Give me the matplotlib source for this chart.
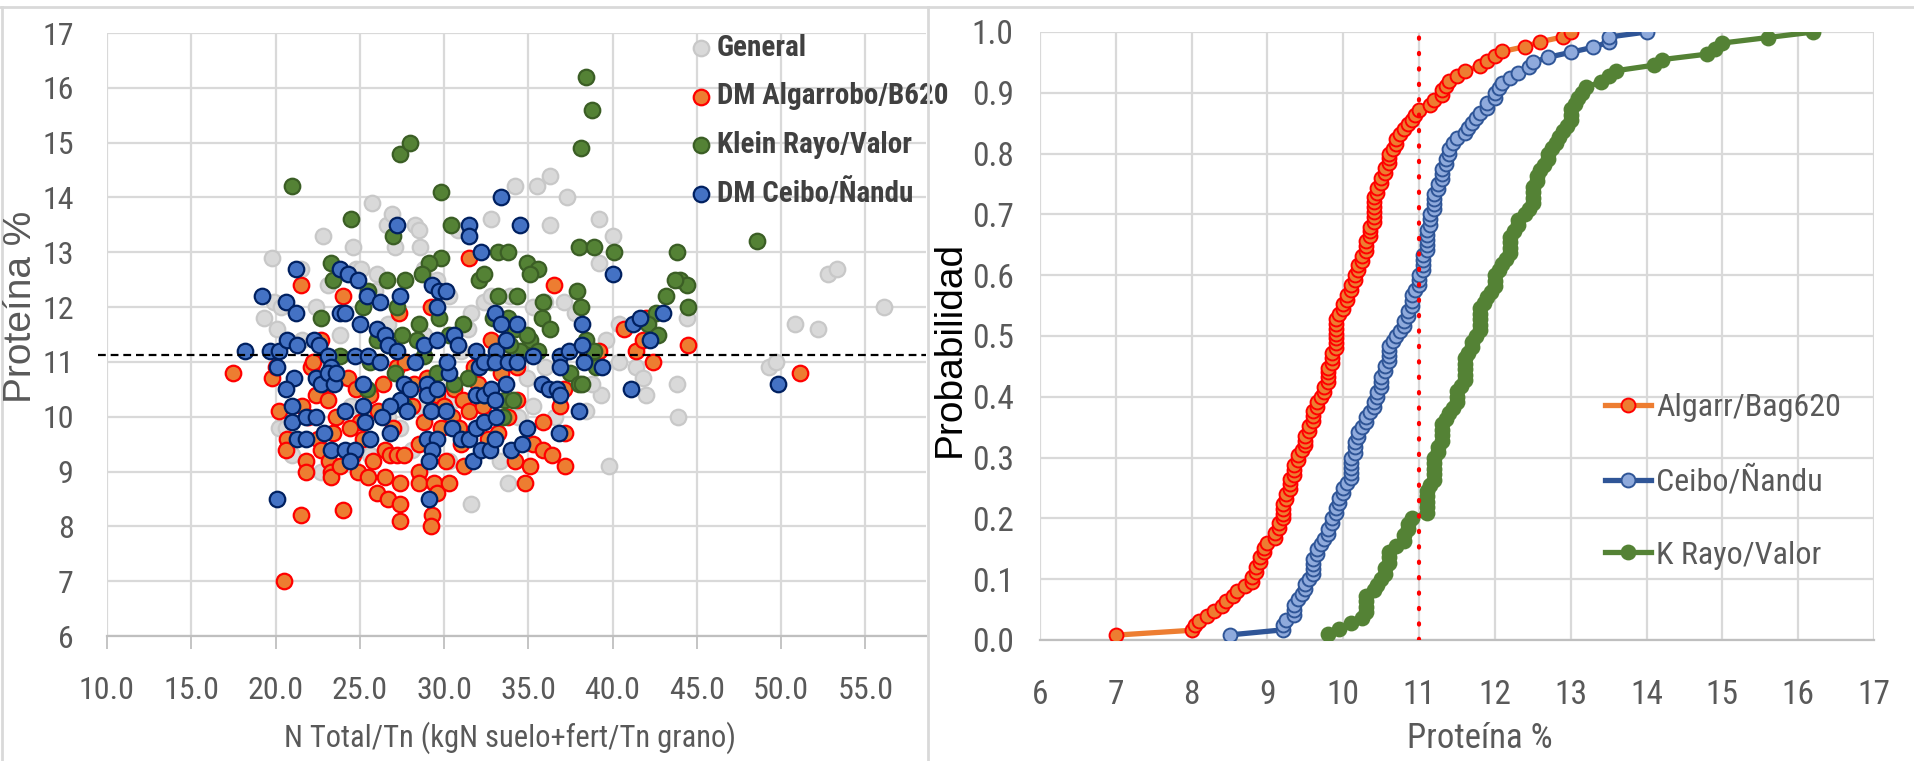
import os
import numpy as np
import matplotlib
matplotlib.use("Agg")
import matplotlib.pyplot as plt
from matplotlib import font_manager
from matplotlib.font_manager import FontProperties
from matplotlib.lines import Line2D

# ---- scatter data (N Total/Tn, Proteina %) ----
general_pts = [(19.8, 12.9), (19.3, 11.8), (19.9, 12.1), (20.1, 11.6), (20.3, 12.0), (20.2, 9.8), (21.0, 9.3),
               (21.5, 12.7), (22.4, 12.0), (22.8, 13.3), (23.1, 12.4), (23.8, 11.5), (24.6, 13.1), (24.8, 12.7),
               (25.1, 12.7), (25.7, 13.9), (26.0, 12.6), (26.6, 13.5), (26.9, 13.7), (27.1, 13.1), (28.3, 13.5),
               (28.5, 13.4), (28.6, 13.1), (28.8, 12.7), (29.6, 12.5), (30.8, 13.4), (31.4, 11.6), (32.4, 12.1),
               (32.8, 13.6), (34.2, 14.2), (35.5, 14.2), (36.3, 14.4), (37.3, 14.0), (36.3, 13.5), (39.2, 13.6),
               (40.0, 13.3), (39.2, 12.8), (37.1, 12.1), (35.3, 12.0), (40.4, 11.7), (40.4, 11.0), (41.4, 10.9),
               (41.8, 10.7), (42.0, 10.4), (39.3, 10.4), (38.8, 10.6), (38.4, 10.1), (39.8, 9.1), (43.8, 10.6),
               (43.9, 10.0), (44.4, 11.8), (49.3, 10.9), (49.7, 11.0), (50.8, 11.7), (52.2, 11.6), (52.8, 12.6),
               (53.3, 12.7), (56.1, 12.0), (33.8, 8.8), (31.6, 8.4), (30.3, 9.2), (33.3, 9.2), (22.7, 9.0),
               (20.6, 9.8), (25.2, 10.0), (27.4, 9.8), (35.3, 10.2), (36.0, 10.9), (34.9, 10.7), (39.6, 11.4),
               (23.8, 10.7), (26.7, 10.0), (31.6, 11.9), (30.3, 12.2), (32.8, 12.2), (25.9, 12.3), (31.0, 11.2),
               (33.9, 12.2), (36.0, 12.1), (37.8, 11.9), (28.8, 11.5), (26.7, 11.7), (34.4, 10.0), (36.6, 10.0),
               (21.6, 11.4), (22.4, 10.9), (24.5, 10.2), (28.5, 10.2), (30.6, 10.3), (33.2, 10.3), (25.6, 9.3),
               (28.1, 9.4)]

algarrobo_pts = [(17.5, 10.8), (19.8, 10.7), (20.2, 10.1), (20.5, 7.0), (21.5, 12.4), (21.5, 8.2), (20.7, 9.6),
                 (21.8, 9.2), (21.8, 9.0), (22.1, 10.9), (22.4, 10.4), (22.7, 11.4), (22.5, 9.6), (22.7, 9.4),
                 (23.2, 9.2), (23.3, 9.0), (23.3, 8.9), (23.4, 9.7), (23.8, 9.1), (24.0, 8.3), (24.0, 12.2),
                 (24.3, 10.7), (24.6, 9.3), (24.9, 9.0), (25.5, 8.9), (25.2, 9.6), (25.8, 9.2), (26.0, 8.6),
                 (26.5, 8.9), (26.7, 8.5), (26.5, 9.4), (26.8, 9.3), (27.2, 9.3), (27.4, 8.8), (27.4, 8.4),
                 (27.4, 8.1), (27.6, 9.3), (28.5, 9.0), (28.5, 8.8), (28.5, 9.5), (29.4, 8.8), (29.3, 8.2),
                 (29.2, 8.0), (29.6, 8.6), (30.3, 8.8), (30.1, 9.2), (31.0, 9.5), (31.2, 9.1), (31.5, 12.9),
                 (29.2, 12.0), (27.3, 11.9), (27.2, 10.9), (27.7, 11.0), (28.2, 10.6), (29.6, 10.4), (30.6, 10.5),
                 (31.1, 10.3), (31.5, 10.1), (30.5, 10.0), (30.9, 9.8), (32.0, 10.6), (32.8, 11.4), (33.4, 10.8),
                 (34.3, 10.9), (34.3, 10.3), (33.8, 10.0), (34.2, 9.2), (34.8, 8.8), (35.1, 9.1), (35.3, 9.5),
                 (35.9, 9.9), (35.9, 9.4), (36.4, 9.3), (36.5, 12.4), (36.9, 10.2), (37.2, 9.7), (37.2, 9.1),
                 (37.1, 10.5), (39.2, 11.2), (40.7, 11.6), (41.4, 11.2), (41.8, 11.4), (42.4, 11.0), (42.0, 11.8),
                 (44.5, 11.3), (51.1, 10.8), (20.6, 9.4), (21.6, 10.2), (21.9, 10.0), (23.1, 10.3), (23.6, 10.0),
                 (25.6, 10.4), (26.1, 10.1), (28.1, 10.2), (28.8, 9.9), (29.8, 9.8), (32.6, 9.6), (33.2, 9.7),
                 (22.2, 11.0), (20.0, 10.9), (24.8, 10.5), (25.0, 9.9), (27.0, 9.8), (29.0, 10.7), (30.0, 10.2),
                 (31.8, 10.9), (32.3, 10.2), (26.4, 10.6), (22.9, 10.6), (24.4, 9.8)]

rayo_pts = [(21.0, 14.2), (24.5, 13.6), (23.3, 12.8), (23.4, 12.5), (22.7, 11.8), (23.8, 11.1), (27.4, 14.8),
            (28.0, 15.0), (29.8, 14.1), (30.4, 13.5), (27.0, 13.3), (29.8, 12.9), (29.1, 12.8), (28.7, 12.6),
            (27.7, 12.5), (26.6, 12.5), (25.2, 12.0), (25.5, 12.3), (27.2, 12.0), (28.5, 11.7), (27.5, 11.5),
            (29.7, 11.8), (30.3, 11.5), (31.1, 11.7), (32.1, 12.5), (32.4, 12.6), (33.2, 13.0), (33.8, 13.0),
            (33.2, 12.2), (34.3, 12.2), (32.9, 11.8), (33.8, 11.8), (34.9, 12.8), (35.6, 12.7), (35.1, 12.6),
            (35.9, 12.1), (35.8, 11.8), (36.3, 11.6), (35.1, 11.4), (34.5, 11.2), (35.6, 11.2), (38.4, 16.2),
            (38.8, 15.6), (38.1, 14.9), (38.0, 13.1), (38.9, 13.1), (40.1, 13.0), (37.9, 12.3), (38.1, 12.0),
            (38.4, 11.4), (38.9, 11.2), (37.5, 10.8), (38.0, 10.6), (43.8, 13.0), (44.0, 12.5), (44.4, 12.4),
            (43.2, 12.2), (42.6, 11.9), (44.5, 12.0), (42.1, 11.7), (42.7, 11.5), (48.6, 13.2), (31.4, 10.7),
            (32.4, 10.4), (33.6, 10.3), (33.5, 10.0), (34.1, 10.3), (30.6, 10.6), (29.6, 10.8), (27.1, 10.8),
            (25.6, 11.0), (25.4, 10.5), (27.6, 10.2), (33.9, 11.3), (26.0, 11.4), (26.7, 11.3), (28.8, 11.1),
            (28.4, 11.4), (32.8, 11.0), (34.2, 11.6), (34.9, 11.5), (39.0, 10.9), (38.2, 10.6), (43.7, 12.5)]

ceibo_pts = [(18.2, 11.2), (19.2, 12.2), (19.7, 11.2), (20.2, 11.2), (20.1, 10.9), (20.1, 8.5), (20.6, 12.1),
             (21.2, 12.7), (21.2, 11.9), (20.7, 11.4), (21.3, 11.3), (21.1, 10.7), (20.6, 10.5), (21.0, 10.2),
             (21.0, 9.9), (21.3, 9.6), (21.8, 9.6), (21.8, 10.0), (22.4, 10.0), (22.3, 11.4), (22.6, 11.3),
             (22.4, 10.7), (22.7, 10.6), (22.9, 9.7), (23.3, 9.4), (23.1, 11.1), (23.3, 10.9), (23.1, 10.8),
             (23.5, 10.6), (23.6, 10.8), (23.8, 11.9), (24.1, 11.9), (23.8, 12.7), (24.3, 12.6), (24.9, 12.5),
             (25.4, 12.2), (25.0, 11.7), (24.7, 11.1), (24.1, 10.1), (24.1, 9.4), (24.7, 9.4), (24.4, 9.2),
             (25.2, 10.6), (25.2, 10.2), (25.3, 9.9), (25.6, 9.6), (25.5, 11.1), (26.0, 11.6), (26.2, 12.1),
             (26.5, 11.5), (26.7, 11.3), (26.2, 11.0), (27.2, 13.5), (27.4, 12.2), (27.2, 11.2), (27.6, 10.6),
             (27.4, 10.3), (26.8, 10.2), (26.3, 10.0), (26.8, 9.7), (27.8, 10.1), (28.0, 10.5), (28.3, 11.0),
             (28.8, 11.3), (29.3, 12.4), (29.7, 12.3), (30.1, 12.3), (29.6, 12.0), (29.6, 11.4), (29.0, 10.6),
             (29.0, 10.4), (29.6, 10.5), (29.2, 10.1), (29.0, 9.6), (29.6, 9.6), (29.3, 9.4), (29.1, 9.2),
             (29.1, 8.5), (30.3, 10.8), (30.2, 11.0), (30.6, 11.5), (30.8, 11.3), (30.1, 10.1), (30.5, 9.8),
             (31.0, 9.6), (31.5, 9.6), (31.7, 9.2), (31.5, 13.5), (31.5, 13.3), (32.2, 13.0), (31.9, 11.2),
             (32.1, 10.9), (32.4, 11.0), (31.9, 10.4), (32.4, 10.4), (31.9, 9.8), (32.4, 9.9), (32.2, 9.4),
             (32.7, 9.4), (32.8, 10.5), (33.0, 11.9), (33.1, 11.2), (33.0, 11.0), (33.0, 10.3), (33.1, 10.0),
             (33.0, 9.6), (33.4, 14.0), (33.4, 11.7), (33.7, 11.4), (33.8, 11.0), (33.7, 10.6), (34.0, 9.4),
             (34.5, 13.5), (34.3, 11.7), (34.3, 11.0), (34.6, 9.5), (34.9, 9.8), (35.3, 11.1), (35.8, 10.6),
             (36.2, 10.5), (36.7, 10.5), (36.9, 10.4), (36.9, 11.1), (37.4, 11.2), (36.9, 10.9), (36.8, 9.7),
             (38.0, 10.1), (38.2, 11.7), (38.2, 11.3), (38.3, 11.0), (39.4, 10.9), (40.0, 12.6), (41.1, 10.5),
             (41.2, 11.7), (41.6, 11.8), (42.2, 11.4), (43.0, 11.9), (49.8, 10.6)]

scatter_labels = ["General", "DM Algarrobo/B620", "Klein Rayo/Valor", "DM Ceibo/Ñandu"]
threshold_left = 11.13

# ---- cumulative probability data (Proteina %, sorted) ----
algarr_prot = [7.0, 8.0, 8.05, 8.1, 8.2, 8.3, 8.4, 8.45, 8.55, 8.6,
               8.7, 8.8, 8.8, 8.85, 8.85, 8.9, 8.9, 8.95, 8.95, 9.0,
               9.1, 9.1, 9.15, 9.15, 9.2, 9.2, 9.2, 9.2, 9.25, 9.25,
               9.3, 9.3, 9.3, 9.35, 9.35, 9.35, 9.4, 9.4, 9.45, 9.5,
               9.5, 9.5, 9.55, 9.55, 9.6, 9.6, 9.6, 9.65, 9.65, 9.7,
               9.75, 9.75, 9.8, 9.8, 9.8, 9.8, 9.85, 9.85, 9.85, 9.9,
               9.9, 9.9, 9.9, 9.9, 9.9, 9.9, 9.95, 10.0, 10.0, 10.05,
               10.05, 10.1, 10.1, 10.15, 10.15, 10.2, 10.2, 10.25, 10.25, 10.3,
               10.3, 10.3, 10.35, 10.35, 10.35, 10.4, 10.4, 10.4, 10.4, 10.4,
               10.4, 10.45, 10.45, 10.5, 10.5, 10.55, 10.55, 10.6, 10.6, 10.6,
               10.65, 10.7, 10.7, 10.75, 10.8, 10.85, 10.9, 10.95, 11.0, 11.15,
               11.2, 11.3, 11.3, 11.35, 11.4, 11.5, 11.6, 11.8, 11.9, 12.0,
               12.1, 12.4, 12.6, 12.9, 13.0]

ceibo_prot = [8.5, 9.2, 9.2, 9.25, 9.35, 9.35, 9.35, 9.4, 9.45, 9.5,
              9.5, 9.55, 9.6, 9.6, 9.6, 9.6, 9.65, 9.65, 9.7, 9.75,
              9.8, 9.8, 9.85, 9.85, 9.9, 9.9, 9.95, 9.95, 10.0, 10.0,
              10.05, 10.1, 10.1, 10.1, 10.1, 10.1, 10.15, 10.15, 10.15, 10.2,
              10.2, 10.25, 10.3, 10.3, 10.35, 10.4, 10.4, 10.45, 10.45, 10.5,
              10.5, 10.5, 10.55, 10.55, 10.6, 10.6, 10.6, 10.6, 10.65, 10.7,
              10.75, 10.8, 10.8, 10.85, 10.85, 10.9, 10.9, 10.9, 10.95, 11.0,
              11.0, 11.0, 11.05, 11.05, 11.05, 11.05, 11.1, 11.1, 11.1, 11.1,
              11.1, 11.15, 11.15, 11.15, 11.2, 11.2, 11.2, 11.2, 11.25, 11.25,
              11.3, 11.3, 11.3, 11.35, 11.35, 11.4, 11.4, 11.45, 11.5, 11.6,
              11.65, 11.7, 11.75, 11.8, 11.9, 11.9, 12.0, 12.0, 12.05, 12.1,
              12.2, 12.3, 12.45, 12.5, 12.7, 13.0, 13.3, 13.5, 13.5, 14.0]

rayo_prot = [9.8, 9.95, 10.1, 10.25, 10.3, 10.3, 10.3, 10.3, 10.4, 10.45,
             10.5, 10.55, 10.55, 10.6, 10.6, 10.6, 10.7, 10.8, 10.8, 10.85,
             10.85, 10.9, 11.1, 11.1, 11.1, 11.1, 11.1, 11.15, 11.2, 11.2,
             11.2, 11.2, 11.2, 11.25, 11.25, 11.3, 11.3, 11.3, 11.3, 11.35,
             11.4, 11.45, 11.5, 11.5, 11.5, 11.55, 11.6, 11.6, 11.6, 11.6,
             11.6, 11.65, 11.7, 11.7, 11.75, 11.8, 11.8, 11.8, 11.8, 11.8,
             11.85, 11.9, 11.95, 12.0, 12.0, 12.0, 12.05, 12.1, 12.15, 12.2,
             12.2, 12.2, 12.2, 12.25, 12.3, 12.3, 12.4, 12.45, 12.5, 12.5,
             12.5, 12.5, 12.55, 12.55, 12.6, 12.65, 12.7, 12.7, 12.75, 12.8,
             12.85, 12.9, 12.95, 13.0, 13.0, 13.0, 13.05, 13.1, 13.15, 13.2,
             13.4, 13.5, 13.6, 14.1, 14.2, 14.8, 14.9, 15.0, 15.6, 16.2]

cdf_labels = ["Algarr/Bag620", "Ceibo/Ñandu", "K Rayo/Valor"]
threshold_right = 11.0


# ---- fonts: look for a narrow face (Excel/Calibri look), else fall back ----
def _weight(f):
    w = f.weight
    if isinstance(w, str):
        w = font_manager.weight_dict.get(w, 400)
    return w


def find_font(keys, bold=False):
    target = 700 if bold else 400
    for key in keys:
        k = key.lower().replace(" ", "")
        found = [f for f in font_manager.fontManager.ttflist
                 if k in (f.name + os.path.basename(f.fname)).lower().replace(" ", "").replace("-", "").replace("_", "")
                 and f.style == "normal"]
        if found:
            found.sort(key=lambda f: abs(_weight(f) - target))
            return found[0].fname
    return None


narrow_keys = ["LiberationSansNarrow", "ArialNarrow", "RobotoCondensed", "NotoSansCondensed",
               "OpenSansCondensed", "DejaVuSansCondensed"]
narrow_reg = find_font(narrow_keys)
narrow_bold = find_font(narrow_keys, bold=True)
wide_reg = find_font(["LiberationSans", "Arial"])
scale = 1.0
if narrow_reg is None:
    narrow_reg = wide_reg
    narrow_bold = find_font(["LiberationSans"], bold=True)
    scale = 0.85


def fp(size, bold=False, wide=False):
    path = wide_reg if wide else (narrow_bold if bold else narrow_reg)
    if path is None:
        return FontProperties(family="DejaVu Sans", size=size * 0.8,
                              weight="bold" if bold else "normal")
    return FontProperties(fname=path, size=size if wide else size * scale)


TXT = "#595959"
GRID = "#D9D9D9"

fig = plt.figure(figsize=(19.15, 7.61), dpi=100)
W, H = 1915.0, 761.0

# ---------------- left panel: scatter ----------------
ax1 = fig.add_axes([107 / W, 1 - 636 / H, (926 - 107) / W, (636 - 33) / H])
styles = [("#D9D9D9", "#C8C8C8"), ("#ED7D31", "#FF0000"), ("#548235", "#3B5E25"), ("#4472C4", "#002060")]
handles = []
for pts, label, (fc, ec) in zip([general_pts, algarrobo_pts, rayo_pts, ceibo_pts], scatter_labels, styles):
    xs = [p[0] for p in pts]
    ys = [p[1] for p in pts]
    h = ax1.scatter(xs, ys, s=125, facecolor=fc, edgecolor=ec, linewidths=1.6, label=label, zorder=3)
    handles.append(h)

ax1.plot([9.45, 58.6], [threshold_left, threshold_left], color="black", linestyle=(0, (3.5, 2.2)),
         linewidth=1.6, zorder=4, clip_on=False)
ax1.set_xlim(10, 58.6)
ax1.set_ylim(6, 17)
ax1.set_xticks(np.arange(10, 56, 5))
ax1.set_xticklabels([f"{v:.1f}" for v in np.arange(10, 56, 5)])
ax1.set_yticks(np.arange(6, 18, 1))
ax1.grid(True, color=GRID, linewidth=1.6, zorder=0)
ax1.set_axisbelow(True)
for side in ["top", "right", "left"]:
    ax1.spines[side].set_visible(False)
ax1.spines["bottom"].set_color("#BFBFBF")
ax1.spines["bottom"].set_linewidth(1.6)
ax1.tick_params(axis="x", length=9, width=1.3, color="#BFBFBF", pad=20, labelcolor=TXT)
ax1.tick_params(axis="y", length=0, pad=24, labelcolor=TXT)
for lab in ax1.get_xticklabels() + ax1.get_yticklabels():
    lab.set_fontproperties(fp(23))

fig.text(21 / W, 1 - 307 / H, "Proteína %", rotation=90, ha="center", va="center",
         color=TXT, fontproperties=fp(28, wide=True))
fig.text(510 / W, 1 - 738 / H, "N Total/Tn (kgN suelo+fert/Tn grano)", ha="center", va="center",
         color=TXT, fontproperties=fp(22))

leg1 = ax1.legend(handles=handles, loc="upper left", bbox_to_anchor=(686 / W, 1 - 34 / H),
                  bbox_transform=fig.transFigure, frameon=False, scatterpoints=1,
                  handletextpad=0.05, handlelength=1.0, labelspacing=0.7, borderpad=0,
                  borderaxespad=0, prop=fp(21, bold=True))
for t in leg1.get_texts():
    t.set_color("#404040")

# ---------------- right panel: cumulative probability ----------------
ax2 = fig.add_axes([1040 / W, 1 - 640 / H, (1874 - 1040) / W, (640 - 32) / H])
series = [(algarr_prot, "#ED7D31", "#ED7D31", "#FF0000"),
          (ceibo_prot, "#2F5597", "#8FAADC", "#2F5597"),
          (rayo_prot, "#548235", "#548235", "#548235")]
lines = []
for (vals, lc, mfc, mec), label in zip(series, cdf_labels):
    vals = np.sort(np.array(vals))
    prob = np.arange(1, len(vals) + 1) / len(vals)
    ln, = ax2.plot(vals, prob, color=lc, linewidth=3.8, marker="o", markersize=10,
                   markerfacecolor=mfc, markeredgecolor=mec, markeredgewidth=1.4,
                   label=label, zorder=3)
    lines.append(ln)

ax2.axvline(threshold_right, color="#FF0000", linewidth=3.0, linestyle=(0, (0.3, 3.4)),
            dash_capstyle="round", zorder=4)
ax2.set_xlim(6, 17)
ax2.set_ylim(0, 1.0)
ax2.set_xticks(np.arange(6, 18, 1))
ax2.set_yticks(np.arange(0, 1.01, 0.1))
ax2.set_yticklabels([f"{v:.1f}" for v in np.arange(0, 1.01, 0.1)])
ax2.grid(True, color=GRID, linewidth=1.6, zorder=0)
ax2.set_axisbelow(True)
for side in ["top", "right", "left"]:
    ax2.spines[side].set_visible(False)
ax2.spines["bottom"].set_color("#BFBFBF")
ax2.spines["bottom"].set_linewidth(1.6)
ax2.tick_params(axis="both", length=0, labelcolor=TXT)
ax2.tick_params(axis="y", pad=19)
ax2.tick_params(axis="x", pad=28)
for lab in ax2.get_xticklabels() + ax2.get_yticklabels():
    lab.set_fontproperties(fp(24))

fig.text(950 / W, 1 - 349 / H, "Probabilidad", rotation=90, ha="center", va="center",
         color="black", fontproperties=fp(28, wide=True))
fig.text(1480 / W, 1 - 738 / H, "Proteína %", ha="center", va="center",
         color=TXT, fontproperties=fp(25))

leg2 = ax2.legend(handles=lines, loc="upper left", bbox_to_anchor=(1605 / W, 1 - 393 / H),
                  bbox_transform=fig.transFigure, frameon=False,
                  handletextpad=0.15, handlelength=1.45, labelspacing=1.375, borderpad=0,
                  borderaxespad=0, prop=fp(23))
for t in leg2.get_texts():
    t.set_color(TXT)

# ---- panel borders ----
for xs, ys in [([0, 1], [1 - 7 / H, 1 - 7 / H]), ([2 / W, 2 / W], [0, 1 - 7 / H]),
               ([928 / W, 928 / W], [0, 1 - 7 / H])]:
    fig.add_artist(Line2D(xs, ys, color=GRID, linewidth=2, transform=fig.transFigure))

fig.savefig("out.png", dpi=100, facecolor="white")
